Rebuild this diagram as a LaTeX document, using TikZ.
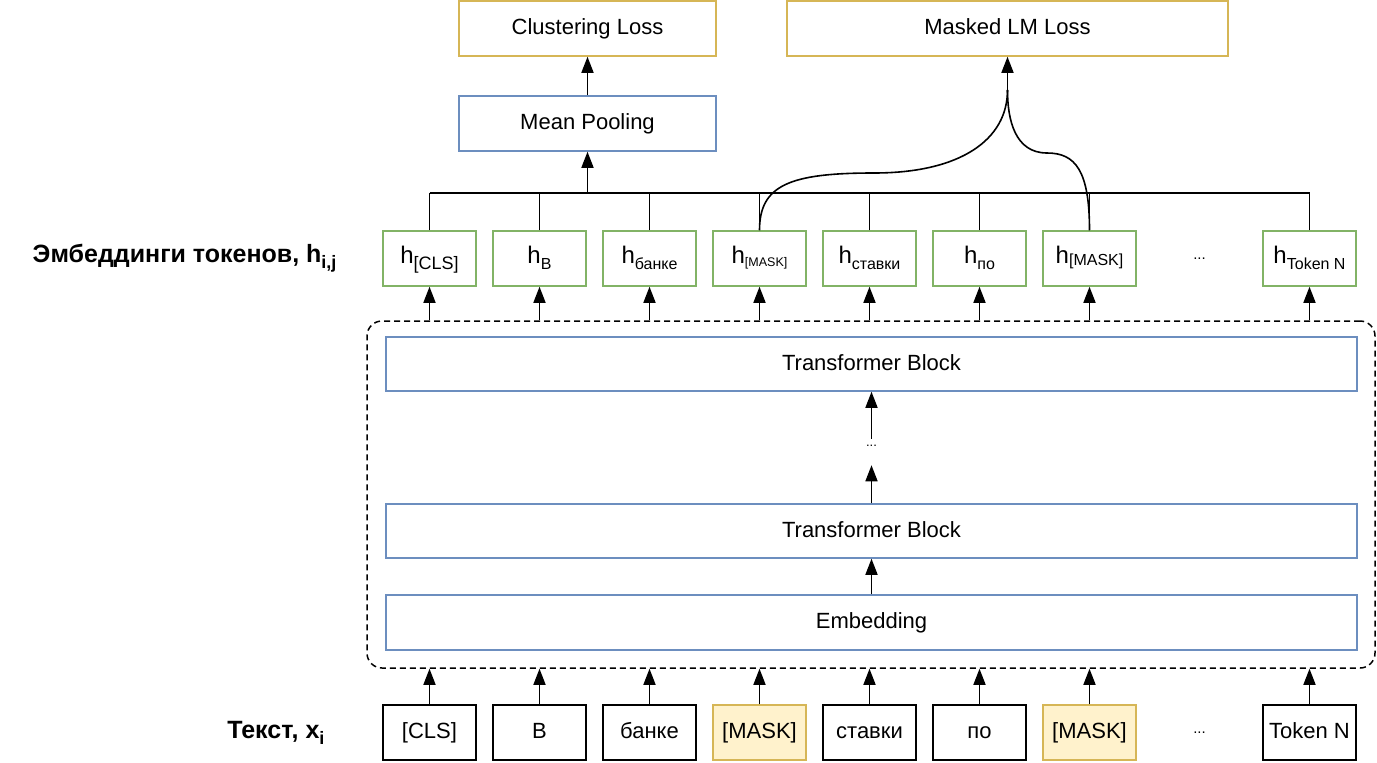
\documentclass[tikz,border=0pt]{standalone}
\usepackage{fontspec}
\setmainfont{Liberation Sans}
\usetikzlibrary{arrows.meta}
\definecolor{grn}{HTML}{82B366}
\definecolor{blu}{HTML}{6C8EBF}
\definecolor{gld}{HTML}{D6B656}
\definecolor{ylw}{HTML}{FFF2CC}
\newcommand\hsub[3][15]{h\raisebox{-#3pt}{\fontsize{#1}{#1}\selectfont #2}}
\begin{document}
\begin{tikzpicture}[x=1pt,y=-1pt,
  font=\fontsize{22}{26}\selectfont,
  txt/.style={text height=16pt, text depth=4pt},
  bx/.style={draw, line width=1.5pt, minimum width=93pt, minimum height=55pt, inner sep=0pt, txt},
  hbox/.style={bx, draw=grn, font=\fontsize{24}{28}\selectfont, text height=17pt, text depth=8pt},
  tok/.style={bx, draw=black, text depth=5pt},
  mtok/.style={tok, draw=gld, fill=ylw},
  loss/.style={draw=gld, line width=1.5pt, minimum height=55pt, inner sep=0pt, txt},
  blk/.style={draw=blu, line width=1.5pt, minimum height=54pt, inner sep=0pt, txt},
  ln/.style={line width=1.6pt},
  arr/.style={ln, -{Triangle[width=12pt,length=16pt]}},
  lbl/.style={anchor=east, font=\fontsize{25}{29}\selectfont\bfseries}
]
\useasboundingbox (0,0) rectangle (1377,763);

% top
\node[loss, minimum width=257pt] (cl) at (587.5,28.5) {Clustering Loss};
\node[loss, minimum width=441pt] (mlm) at (1007.5,28.5) {Masked LM Loss};
\node[blk, minimum width=257pt, minimum height=55pt] (mp) at (587.5,123.5) {Mean Pooling};

% container
\node[draw, line width=1.5pt, dash pattern=on 6pt off 4pt, rounded corners=15pt,
      minimum width=1008pt, minimum height=347pt, inner sep=0pt] (cont) at (871,494.5) {};
\node[blk, minimum width=971pt] (tb1) at (871.5,364) {Transformer Block};
\node[font=\fontsize{13}{15}\selectfont] (dots) at (871.5,446) {...};
\node[blk, minimum width=971pt] (tb2) at (871.5,531) {Transformer Block};
\node[blk, minimum width=971pt, minimum height=55pt] (emb) at (871.5,622.5) {Embedding};

% h boxes
\node[hbox] (h0) at (429.5,258.5) {\hsub[18]{[CLS]}{6}};
\node[hbox] (h1) at (539.5,258.5) {\hsub[16]{B}{6}};
\node[hbox] (h2) at (649.5,258.5) {\hsub[16]{банке}{6}};
\node[hbox] (h3) at (759.5,258.5) {\hsub[12.5]{[MASK]}{3}};
\node[hbox] (h4) at (869.5,258.5) {\hsub[16]{ставки}{6}};
\node[hbox] (h5) at (979.5,258.5) {\hsub[16]{по}{6}};
\node[hbox] (h6) at (1089.5,258.5) {\hsub[16]{[MASK]}{2}};
\node[font=\fontsize{15}{17}\selectfont] (hd) at (1199.5,258.5) {...};
\node[hbox] (h8) at (1309.5,258.5) {\hsub[16]{Token N}{6}};

% tokens
\node[tok] (t0) at (429.5,732.5) {[CLS]};
\node[tok] (t1) at (539.5,732.5) {B};
\node[tok] (t2) at (649.5,732.5) {банке};
\node[mtok] (t3) at (759.5,732.5) {[MASK]};
\node[tok] (t4) at (869.5,732.5) {ставки};
\node[tok] (t5) at (979.5,732.5) {по};
\node[mtok] (t6) at (1089.5,732.5) {[MASK]};
\node[font=\fontsize{15}{17}\selectfont] (td) at (1199.5,732.5) {...};
\node[tok] (t8) at (1309.5,732.5) {Token N};

% labels
\node[lbl] (lab1) at (340,258.5) {Эмбеддинги токенов, h\raisebox{-6pt}{\fontsize{18}{18}\selectfont i,j}};
\node[lbl] (lab2) at (328,733) {Текст, x\raisebox{-6pt}{\fontsize{18}{18}\selectfont i}};

% bus
\coordinate (bus) at (0,193);
\draw[ln] (h0.north |- bus) -- (h8.north |- bus);
\foreach \n in {h0,h1,h2,h3,h4,h5,h6,h8} {
  \draw[ln] (\n.north) -- (\n.north |- bus);
}
\draw[arr] (mp.south |- bus) -- (mp.south);
\draw[arr] (mp.north) -- (cl.south);

% masked curves
\coordinate (mj) at (1007.5,90);
\draw[ln] (h3.north) .. controls (759.5,185) and (790,173) .. (874,173)
          .. controls (960,173) and (1007.5,140) .. (mj);
\draw[ln] (h6.north) .. controls (1089.5,170) and (1075,153) .. (1047,153)
          .. controls (1015,153) and (1007.5,120) .. (mj);
\draw[arr] (mj) -- (mlm.south);

% arrows into h boxes and from tokens
\foreach \i in {0,1,2,3,4,5,6,8} {
  \draw[arr] (h\i.south |- cont.north) -- (h\i.south);
  \draw[arr] (t\i.north) -- (t\i.north |- cont.south);
}

% internal arrows
\draw[arr] (emb.north) -- (tb2.south);
\draw[arr] (tb2.north) -- ++(0,-38);
\draw[arr] (dots.north) ++(0,-3) -- (tb1.south);
\end{tikzpicture}
\end{document}
